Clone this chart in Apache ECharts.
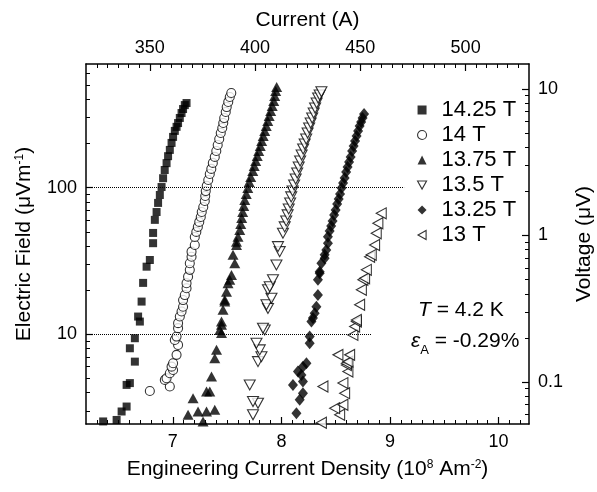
<!DOCTYPE html>
<html><head><meta charset="utf-8">
<script src="https://cdn.jsdelivr.net/npm/echarts@6/dist/echarts.min.js"></script>
<style>html,body{margin:0;padding:0;background:#fff}#c{width:597px;height:492px}</style>
</head><body><div id="c"></div>
<script>
const FONT = "'Liberation Sans', Arial, Helvetica, sans-serif";

// ---- data: [J (10^8 A/m^2), E (uV/m)] ----
const seriesNames = ['14.25 T', '14 T', '13.75 T', '13.5 T', '13.25 T', '13 T'];
const d1425 = [
  [6.358,2.54],[6.482,2.60],[6.528,2.97],[6.574,3.21],[6.574,4.51],[6.604,4.64],[6.650,6.50],[6.604,8.02],
  [6.650,9.39],[6.696,12.2],[6.680,13.2],[6.712,16.7],[6.726,22.4],[6.758,28.9],[6.788,32.1],[6.818,41.8],
  [6.818,49.1],[6.834,60.3],[6.850,68.2],[6.864,78.7],[6.880,89.1],[6.896,101],[6.910,116],[6.925,132],
  [6.942,147],[6.956,164],[6.972,181],[6.988,202],[7.002,222],[7.018,244],[7.034,260],[7.048,276],
  [7.064,299],[7.080,323],[7.094,344],[7.110,366],[7.126,378]
];
const d1400 = [
  [6.788,4.10],[6.972,4.40],[6.926,4.88],[6.942,5.01],[6.972,5.42],[7.002,5.70],[6.988,6.01],[7.002,6.34],
  [7.034,7.23],[7.048,8.45],[7.018,9.14],[7.034,9.64],[7.048,11.0],[7.048,11.9],[7.064,13.2],[7.080,14.3],
  [7.094,15.4],[7.094,17.1],[7.110,18.5],[7.126,20.6],[7.126,22.3],[7.140,24.7],[7.156,27.5],[7.156,30.5],
  [7.172,33.8],[7.172,36.6],[7.202,40.6],[7.202,46.1],[7.216,49.9],[7.230,54.0],[7.243,58.4],[7.257,63.1],
  [7.266,68.2],[7.280,73.8],[7.294,81.1],[7.298,87.7],[7.303,94.8],[7.312,102.8],[7.326,112.8],[7.340,123.9],
  [7.354,134.3],[7.368,147.6],[7.386,162.2],[7.400,177.8],[7.413,195.4],[7.427,214.8],[7.441,236.1],
  [7.455,255.3],[7.464,276.1],[7.473,298.5],[7.487,328.1],[7.496,354.8],[7.510,384.6],[7.524,415.9],[7.538,442.6]
];
const d1375 = [
  [7.278,2.54],[7.140,2.82],[7.232,2.97],[7.310,2.97],[7.386,3.05],[7.186,3.66],[7.310,4.06],[7.340,4.06],
  [7.356,5.14],[7.386,6.86],[7.402,7.82],[7.448,10.2],[7.432,10.7],[7.448,11.6],[7.448,12.2],[7.462,14.7],
  [7.478,16.7],[7.478,17.2],[7.494,19.5],[7.508,22.3],[7.524,23.5],[7.540,25.4],[7.570,30.5],[7.554,34.8],
  [7.586,40.6],[7.586,42.8],[7.600,46.3],[7.616,51.4],[7.625,56.5],[7.634,62.1],[7.643,68.2],[7.653,74.9],
  [7.662,82.3],[7.676,90.5],[7.690,99.5],[7.703,109.3],[7.717,118.2],[7.736,130.0],[7.749,140.6],[7.763,152.1],
  [7.777,164.5],[7.791,177.9],[7.805,192.4],[7.818,208.3],[7.832,225.3],[7.846,243.7],[7.860,263.6],
  [7.874,285.1],[7.887,308.4],[7.901,333.6],[7.915,360.8],[7.929,390.3],[7.938,422.2],[7.947,456.7],[7.956,486.6]
];
const d1350 = [
  [7.738,2.82],[7.784,3.38],[7.738,3.47],[7.708,4.51],[7.784,6.50],[7.816,7.03],[7.800,7.82],[7.770,8.69],
  [7.846,10.7],[7.830,11.0],[7.876,15.0],[7.862,15.9],[7.908,17.6],[7.876,20.1],[7.892,21.1],[7.922,23.5],
  [7.954,29.7],[7.984,36.6],[7.968,39.6],[8.014,48.9],[8.030,54.0],[8.044,59.3],[8.057,65.2],[8.067,71.6],
  [8.080,78.7],[8.090,86.5],[8.103,94.9],[8.117,104.3],[8.131,114.6],[8.145,126.0],[8.159,138.4],[8.172,152.1],
  [8.186,167.1],[8.200,183.6],[8.214,198.6],[8.228,214.8],[8.241,236.1],[8.255,255.3],[8.269,276.1],
  [8.283,298.5],[8.297,323.4],[8.310,349.9],[8.324,378.4],[8.338,409.3],[8.352,428.8],[8.368,451.6]
];
const d1325 = [
  [8.138,2.89],[8.168,3.57],[8.198,3.96],[8.106,4.51],[8.198,4.75],[8.184,5.27],[8.152,5.56],[8.198,6.01],
  [8.230,6.34],[8.260,8.69],[8.260,9.64],[8.276,12.2],[8.290,12.9],[8.306,13.9],[8.322,15.4],[8.336,18.5],
  [8.336,23.5],[8.352,26.1],[8.352,26.7],[8.368,30.5],[8.398,33.0],[8.398,34.8],[8.413,37.6],[8.428,41.8],
  [8.428,46.3],[8.444,50.7],[8.458,54.8],[8.471,59.3],[8.485,65.2],[8.499,70.5],[8.513,77.5],[8.527,83.8],
  [8.540,90.6],[8.554,99.6],[8.568,107.7],[8.582,116.5],[8.596,128.0],[8.609,138.4],[8.623,149.7],
  [8.637,161.9],[8.651,178.0],[8.665,192.4],[8.678,208.2],[8.692,225.2],[8.706,243.6],[8.720,263.5],
  [8.734,280.7],[8.747,298.7],[8.761,318.3]
];
const d1300 = [
  [8.368,2.49],[8.536,2.82],[8.490,3.13],[8.566,3.30],[8.582,3.96],[8.382,4.40],[8.566,4.64],[8.612,5.56],
  [8.598,6.17],[8.598,6.34],[8.612,6.50],[8.520,7.23],[8.628,7.23],[8.658,9.89],[8.674,11.3],[8.690,12.2],
  [8.690,12.5],[8.720,15.9],[8.736,20.1],[8.750,23.5],[8.766,24.1],[8.782,27.5],[8.812,33.8],[8.827,34.8],
  [8.858,40.6],[8.873,48.9],[8.888,57.2],[8.919,66.8]
];

// ---- axes ----
const jRange = [6.2, 10.28];          // bottom axis (10^8 A m^-2)
const currentRange = [319.7, 530.1];  // top axis (A)
const eRange = [2.44, 698];           // left axis (uV/m), log
const vRange = [0.0517, 14.79];       // right axis (uV), log
const xMajorTicks = [7, 8, 9, 10];
const xMinorTicks = [6.3,6.4,6.5,6.6,6.7,6.8,6.9,7.1,7.2,7.3,7.4,7.5,7.6,7.7,7.8,7.9,8.1,8.2,8.3,8.4,8.5,8.6,8.7,8.8,8.9,
  9.1,9.2,9.3,9.4,9.5,9.6,9.7,9.8,9.9,10.1,10.2];
const currentMajorTicks = [350, 400, 450, 500];
const currentMinorTicks = [325,330,335,340,345,355,360,365,370,375,380,385,390,395,405,410,415,420,425,430,435,440,445,
  455,460,465,470,475,480,485,490,495,505,510,515,520,525];
const eMajorTicks = [10, 100];
const eMajorLabels = ['10', '100'];
const eMinorTicks = [3,4,5,6,7,8,9,20,30,40,50,60,70,80,90,200,300,400,500,600];
const vMajorTicks = [0.1, 1, 10];
const vMajorLabels = ['0.1', '1', '10'];
const vMinorTicks = [0.06,0.07,0.08,0.09,0.2,0.3,0.4,0.5,0.6,0.7,0.8,0.9,2,3,4,5,6,7,8,9];
// dotted reference lines: [E value, J where the line ends]
const refLines = [[100, 9.13], [10, 8.83]];

const lg = Math.log10;
const BLACK = '#000';
const TICK_FS = 18, TITLE_FS = 21;

function labelFor(values, labels) {
  return v => { let k = 0, best = Infinity; values.forEach((t, i) => { const d = Math.abs(lg(t) - v); if (d < best) { best = d; k = i; } }); return labels[k]; };
}
function baseAxis(extra, lineShow) {
  return Object.assign({
    type: 'value', splitLine: { show: false },
    axisLine: { show: lineShow !== false, onZero: false, lineStyle: { color: BLACK, width: 1.5 } },
  }, extra);
}
const titleRich = {
  n: { fontSize: TITLE_FS, fontFamily: FONT, color: BLACK, lineHeight: 22, verticalAlign: 'top' },
  s: { fontSize: 12, fontFamily: FONT, color: BLACK, lineHeight: 12, verticalAlign: 'top' }
};

const xAxis = [
  baseAxis({ position: 'bottom', min: jRange[0], max: jRange[1],
    axisTick: { show: true, inside: true, length: 7, customValues: xMajorTicks, lineStyle: { color: BLACK, width: 1.2 } },
    axisLabel: { customValues: xMajorTicks, fontSize: TICK_FS, fontFamily: FONT, color: BLACK, margin: 9 },
    name: '{n|Engineering Current Density (10}{s|8}{n| Am}{s|-2}{n|)}', nameLocation: 'middle', nameGap: 35,
    nameTextStyle: { rich: titleRich } }),
  baseAxis({ position: 'bottom', min: jRange[0], max: jRange[1],
    axisTick: { show: true, inside: true, length: 4, customValues: xMinorTicks, lineStyle: { color: BLACK, width: 1 } },
    axisLabel: { show: false } }, false),
  baseAxis({ position: 'top', min: currentRange[0], max: currentRange[1],
    axisTick: { show: true, inside: true, length: 7, customValues: currentMajorTicks, lineStyle: { color: BLACK, width: 1.2 } },
    axisLabel: { customValues: currentMajorTicks, fontSize: TICK_FS, fontFamily: FONT, color: BLACK, margin: 7 },
    name: 'Current (A)', nameLocation: 'middle', nameGap: 33,
    nameTextStyle: { fontSize: TITLE_FS, fontFamily: FONT, color: BLACK } }),
  baseAxis({ position: 'top', min: currentRange[0], max: currentRange[1],
    axisTick: { show: true, inside: true, length: 4, customValues: currentMinorTicks, lineStyle: { color: BLACK, width: 1 } },
    axisLabel: { show: false } }, false)
];
const yAxis = [
  baseAxis({ position: 'left', min: lg(eRange[0]), max: lg(eRange[1]),
    axisTick: { show: true, inside: true, length: 7, customValues: eMajorTicks.map(lg), lineStyle: { color: BLACK, width: 1.2 } },
    axisLabel: { customValues: eMajorTicks.map(lg), formatter: labelFor(eMajorTicks, eMajorLabels), fontSize: TICK_FS, fontFamily: FONT, color: BLACK, margin: 9 },
    name: '{n|Electric Field (μVm}{s|-1}{n|)}', nameLocation: 'middle', nameRotate: 90, nameGap: 50,
    nameTextStyle: { rich: titleRich } }),
  baseAxis({ position: 'left', min: lg(eRange[0]), max: lg(eRange[1]),
    axisTick: { show: true, inside: true, length: 4, customValues: eMinorTicks.map(lg), lineStyle: { color: BLACK, width: 1 } },
    axisLabel: { show: false } }, false),
  baseAxis({ position: 'right', min: lg(vRange[0]), max: lg(vRange[1]),
    axisTick: { show: true, inside: true, length: 7, customValues: vMajorTicks.map(lg), lineStyle: { color: BLACK, width: 1.2 } },
    axisLabel: { customValues: vMajorTicks.map(lg), formatter: labelFor(vMajorTicks, vMajorLabels), fontSize: TICK_FS, fontFamily: FONT, color: BLACK, margin: 9 },
    name: 'Voltage (μV)', nameLocation: 'middle', nameRotate: 90, nameGap: 45,
    nameTextStyle: { fontSize: TITLE_FS, fontFamily: FONT, color: BLACK } }),
  baseAxis({ position: 'right', min: lg(vRange[0]), max: lg(vRange[1]),
    axisTick: { show: true, inside: true, length: 4, customValues: vMinorTicks.map(lg), lineStyle: { color: BLACK, width: 1 } },
    axisLabel: { show: false } }, false)
];

const filled = { color: BLACK };
const open = { color: '#fff', borderColor: BLACK, borderWidth: 1.1 };
const styles = [
  { symbol: 'rect', symbolSize: 8, itemStyle: filled },
  { symbol: 'circle', symbolSize: 9, itemStyle: open },
  { symbol: 'triangle', symbolSize: [11, 10], itemStyle: filled },
  { symbol: 'triangle', symbolSize: [11, 10], symbolRotate: 180, itemStyle: open },
  { symbol: 'diamond', symbolSize: [10, 12], itemStyle: filled },
  { symbol: 'triangle', symbolSize: [11, 10], symbolRotate: 90, itemStyle: open }
];
const allData = [d1425, d1400, d1375, d1350, d1325, d1300];
const series = allData.map((d, i) => Object.assign({
  type: 'scatter', name: seriesNames[i], xAxisIndex: 0, yAxisIndex: 0,
  data: d.map(p => [p[0], lg(p[1])]), emphasis: { disabled: true }, animation: false
}, styles[i]));
series[0].markLine = {
  silent: true, symbol: 'none', animation: false, label: { show: false },
  lineStyle: { type: 'dotted', color: BLACK, width: 1 },
  data: refLines.map(r => [{ coord: [jRange[0], lg(r[0])] }, { coord: [r[1], lg(r[0])] }])
};

// legend icons (the rotated triangles are given as outline paths)
const legendIcons = ['rect', 'circle', 'triangle', 'path://M0,0L10,0L5,9Z', 'diamond', 'path://M9,0L9,10L0,5Z'];
const legendData = seriesNames.map((n, i) => ({
  name: n, icon: legendIcons[i], itemStyle: styles[i].itemStyle
}));

const annoRich = {
  i: { fontSize: 21, fontFamily: FONT, fontStyle: 'italic', color: BLACK, lineHeight: 22, verticalAlign: 'top' },
  n: { fontSize: 21, fontFamily: FONT, color: BLACK, lineHeight: 22, verticalAlign: 'top' },
  sub: { fontSize: 13, fontFamily: FONT, color: BLACK, lineHeight: 13, verticalAlign: 'top', padding: [13, 0, 0, 0] }
};

const chart = echarts.init(document.getElementById('c'), null, { renderer: 'canvas' });
chart.setOption({
  animation: false,
  backgroundColor: '#fff',
  grid: { left: 86, right: 68, top: 64, bottom: 68, containLabel: false, outerBoundsMode: 'none' },
  xAxis, yAxis, series,
  legend: {
    data: legendData, orient: 'vertical', left: 412, top: 94, itemWidth: 9, itemHeight: 9, itemGap: 3,
    textStyle: { fontSize: 22, fontFamily: FONT, color: BLACK, lineHeight: 22, padding: [0, 0, 0, 10] },
    selectedMode: false
  },
  graphic: [
    { type: 'text', left: 418, top: 300, style: { text: '{i|T}{n| = 4.2 K}', rich: annoRich } },
    { type: 'text', left: 411, top: 331, style: { text: '{i|ε}{sub|A}{n| = -0.29%}', rich: annoRich } }
  ]
});
</script>
</body></html>
